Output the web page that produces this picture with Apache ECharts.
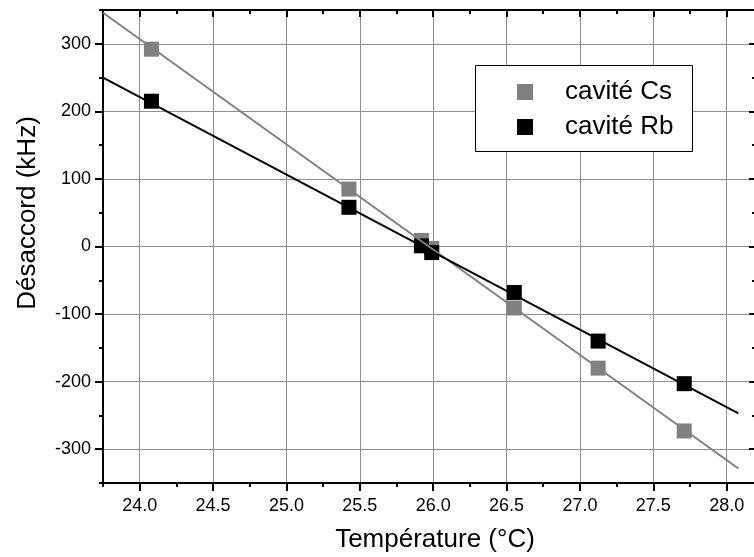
<!DOCTYPE html>
<html><head><meta charset="utf-8">
<script src="https://cdn.jsdelivr.net/npm/echarts@6/dist/echarts.min.js"></script>
<style>html,body{margin:0;padding:0;background:#fff}#c{width:754px;height:557px}</style>
</head><body><div id="c"></div>
<script>
const seriesNames = ['cavité Cs', 'cavité Rb'];
const temperature = [24.08, 25.426, 25.92, 25.99, 26.553, 27.124, 27.711];
const csDetuning = [292, 85, 9, -3, -91, -180, -273];
const rbDetuning = [215, 58, 1, -9, -68, -140, -203];
const fitX = [23.75, 28.08];
const csFit = [346, -328.5];
const rbFit = [250, -247];
const xMajorTicks = [24.0, 24.5, 25.0, 25.5, 26.0, 26.5, 27.0, 27.5, 28.0];
const xMinorTicks = [23.75, 24.25, 24.75, 25.25, 25.75, 26.25, 26.75, 27.25, 27.75];
const yMajorTicks = [-300, -200, -100, 0, 100, 200, 300];
const yMinorTicks = [-350, -250, -150, -50, 50, 150, 250, 350];

const FONT = "'Liberation Sans', Arial, sans-serif";
const X_MIN = 23.75, X_MAX = 28.2, Y_MIN = -350, Y_MAX = 350;
const GRID_COLOR = '#909090';

function xAx(pos, ticks, len, inside, major) {
  return {
    type: 'value', position: pos, min: X_MIN, max: X_MAX,
    axisLine: { show: true, onZero: false, lineStyle: { color: '#000', width: 2 } },
    axisTick: { show: true, inside: inside, length: len, customValues: ticks, lineStyle: { color: '#000', width: 2 } },
    axisLabel: major && pos === 'bottom' ? {
      show: true, customValues: ticks, formatter: v => v.toFixed(1),
      color: '#000', fontSize: 18, fontFamily: FONT, margin: 14
    } : { show: false },
    splitLine: major && pos === 'bottom' ? { show: true, lineStyle: { color: GRID_COLOR, width: 1 } } : { show: false },
    minorTick: { show: false }
  };
}
function yAx(pos, ticks, len, inside, major) {
  return {
    type: 'value', position: pos, min: Y_MIN, max: Y_MAX,
    axisLine: { show: true, onZero: false, lineStyle: { color: '#000', width: 2 } },
    axisTick: { show: true, inside: inside, length: len, customValues: ticks, lineStyle: { color: '#000', width: 2 } },
    axisLabel: major && pos === 'left' ? {
      show: true, customValues: ticks, color: '#000', fontSize: 18, fontFamily: FONT, margin: 12
    } : { show: false },
    splitLine: major && pos === 'left' ? { show: true, lineStyle: { color: GRID_COLOR, width: 1 } } : { show: false }
  };
}

const xAxes = [
  xAx('bottom', xMajorTicks, 8, false, true),
  xAx('bottom', xMinorTicks, 4, false, false),
  xAx('top', xMajorTicks, 7, true, true),
  xAx('top', xMinorTicks, 4, true, false)
];
xAxes[0].name = 'Température (°C)';
xAxes[0].nameLocation = 'middle';
xAxes[0].nameGap = 44;
xAxes[0].nameTextStyle = { color: '#000', fontSize: 26, fontFamily: FONT, padding: [0, 0, 0, 11] };

const yAxes = [
  yAx('left', yMajorTicks, 8, false, true),
  yAx('left', yMinorTicks, 4, false, false),
  yAx('right', yMajorTicks, 7, true, true),
  yAx('right', yMinorTicks, 4, true, false)
];

const chart = echarts.init(document.getElementById('c'), null, { renderer: 'canvas' });
chart.setOption({
  animation: false,
  backgroundColor: '#fff',
  grid: { left: 103, top: 10, width: 653, height: 473, containLabel: false, outerBoundsMode: 'none' },
  xAxis: xAxes,
  yAxis: yAxes,
  legend: {
    data: seriesNames, orient: 'vertical', left: 517, top: 79, padding: 0,
    icon: 'rect', itemWidth: 16, itemHeight: 16, itemGap: 9, z: 20,
    itemStyle: { opacity: 1 },
    textStyle: { color: '#000', fontSize: 26, fontFamily: FONT, lineHeight: 26, padding: [0, 0, 0, 27] }
  },
  graphic: [
    { type: 'rect', z: 10, shape: { x: 475.5, y: 65.5, width: 217, height: 86 },
      style: { fill: '#fff', stroke: '#000', lineWidth: 1 } },
    { type: 'text', z: 10, x: 28, y: 213, rotation: Math.PI / 2,
      style: { text: 'Désaccord (kHz)', font: '26px ' + FONT, fill: '#000', textAlign: 'center', textVerticalAlign: 'middle' } }
  ],
  series: [
    { name: seriesNames[0], type: 'scatter', symbol: 'rect', symbolSize: 15,
      itemStyle: { color: '#808080', opacity: 1 }, data: temperature.map((t, i) => [t, csDetuning[i]]) },
    { name: seriesNames[1], type: 'scatter', symbol: 'rect', symbolSize: 15,
      itemStyle: { color: '#000', opacity: 1 }, data: temperature.map((t, i) => [t, rbDetuning[i]]) },
    { name: 'fitCs', type: 'line', symbol: 'none', silent: true,
      lineStyle: { color: '#808080', width: 2 }, data: fitX.map((t, i) => [t, csFit[i]]) },
    { name: 'fitRb', type: 'line', symbol: 'none', silent: true,
      lineStyle: { color: '#000', width: 2 }, data: fitX.map((t, i) => [t, rbFit[i]]) }
  ]
});
</script>
</body></html>
